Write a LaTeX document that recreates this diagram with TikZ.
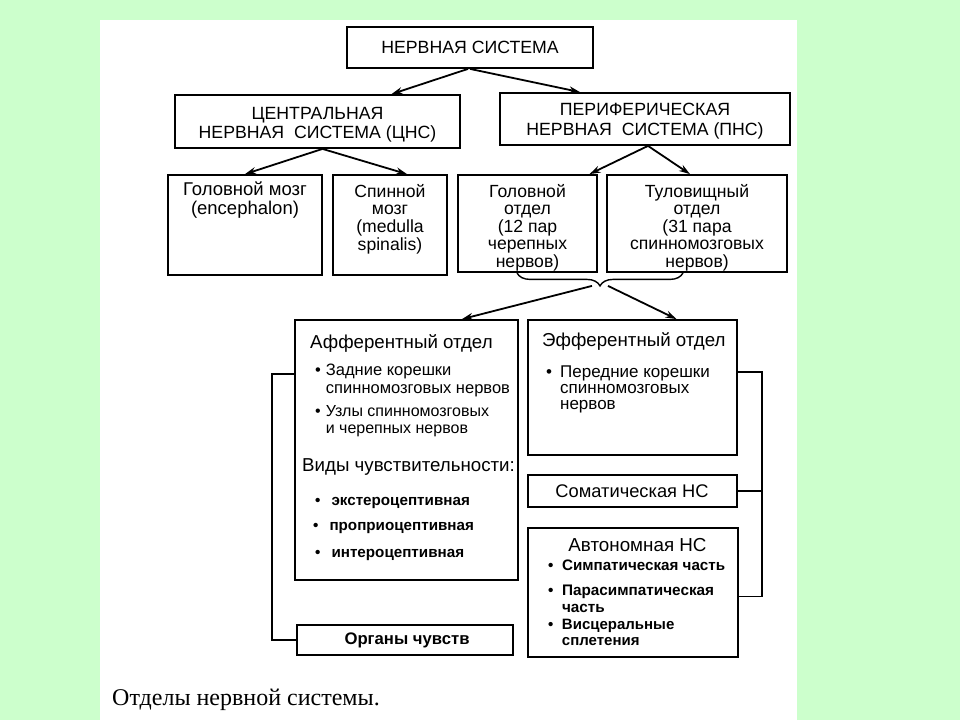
\documentclass[tikz,border=0pt]{standalone}
\usepackage{fontspec}
\setmainfont{Liberation Sans}
\newfontfamily\capfont{Liberation Serif}
\usetikzlibrary{arrows.meta,calc,decorations.pathreplacing}
\definecolor{bggreen}{RGB}{204,255,204}
\newcommand\cblock[1]{\begin{tabular}{@{}c@{}}#1\end{tabular}}
\newcommand\lblockx[2]{\begin{tabular}{@{}l@{\hspace{#1}}l@{}}#2\end{tabular}}
\begin{document}
\begin{tikzpicture}[x=1pt,y=-1pt,
  box/.style={draw=black,line width=1.8pt,inner sep=0pt,fill=white},
  arr/.style={line width=1.8pt,-{Stealth[length=11pt,width=7pt]}},
  conn/.style={line width=1.4pt},
  txt/.style={inner sep=0pt,font=\fontsize{17.7}{17.7}\selectfont},
  row/.style={inner sep=0pt,font=\fontsize{17.6}{17}\selectfont},
  head/.style={inner sep=0pt,font=\fontsize{18.7}{18.7}\selectfont},
  small/.style={inner sep=0pt,font=\fontsize{16.5}{17}\selectfont},
  tiny/.style={inner sep=0pt,font=\bfseries\fontsize{15.2}{15.5}\selectfont}]
% background
\fill[bggreen] (0,0) rectangle (960,720);
\fill[white] (100,20) rectangle (797,720);
% boxes
\node[box,minimum width=246pt,minimum height=41pt] (ns) at (470,47.5) {};
\node[box,minimum width=285pt,minimum height=53pt] (cns) at (317.5,121.5) {};
\node[box,minimum width=290pt,minimum height=52pt] (pns) at (645,119) {};
\node[box,minimum width=154pt,minimum height=100pt] (gm) at (245,225) {};
\node[box,minimum width=114pt,minimum height=100pt] (sm) at (390,225) {};
\node[box,minimum width=139pt,minimum height=97pt] (go) at (527.5,223.5) {};
\node[box,minimum width=180pt,minimum height=97pt] (to) at (697,223.5) {};
\node[box,minimum width=223pt,minimum height=260pt] (aff) at (406.5,450) {};
\node[box,minimum width=209pt,minimum height=135pt] (eff) at (632.5,387.5) {};
\node[box,minimum width=209pt,minimum height=32pt] (som) at (632.5,491) {};
\node[box,minimum width=210pt,minimum height=129pt] (avt) at (633,592.5) {};
\node[box,minimum width=216pt,minimum height=30pt] (org) at (405,640) {};
% texts
\node[txt] (tns) at (470,47) {НЕРВНАЯ СИСТЕМА};
\node[txt,anchor=north,font=\fontsize{17.7}{19}\selectfont] (tcns) at (317.5,106) {\cblock{ЦЕНТРАЛЬНАЯ\\НЕРВНАЯ\ \ СИСТЕМА (ЦНС)}};
\node[txt,anchor=north,font=\fontsize{17.7}{20}\selectfont] (tpns) at (645,101) {\cblock{ПЕРИФЕРИЧЕСКАЯ\\НЕРВНАЯ\ \ СИСТЕМА (ПНС)}};
\node[row,anchor=north,font=\fontsize{18.5}{18.5}\selectfont] (tgm) at (245,182) {\cblock{Головной мозг\\(encephalon)}};
\node[row,anchor=north] (tsm) at (390,184.1) {\cblock{Спинной\\мозг\\(medulla\\spinalis)}};
\node[row,anchor=north] (tgo) at (527.5,184.1) {\cblock{Головной\\отдел\\(12 пар\\черепных\\нервов)}};
\node[row,anchor=north] (tto) at (697,184.1) {\cblock{Туловищный\\отдел\\(31 пара\\спинномозговых\\нервов)}};
% afferent
\node[head,anchor=west] (taff) at (310,343) {Афферентный отдел};
\node[small,anchor=north west,font=\fontsize{16.5}{18}\selectfont] (ta1) at (315,362.4) {\lblockx{5pt}{•&Задние корешки\\&спинномозговых нервов}};
\node[small,anchor=north west,font=\fontsize{16}{16.5}\selectfont] (ta2) at (315,405.2) {\lblockx{5pt}{•&Узлы спинномозговых\\&и черепных нервов}};
\node[head,anchor=west] (tvid) at (302,467) {Виды чувствительности:};
\node[tiny,anchor=west] (tv1) at (315,503) {•\hspace{11pt}экстероцептивная};
\node[tiny,anchor=west] (tv2) at (313,528) {•\hspace{11pt}проприоцептивная};
\node[tiny,anchor=west] (tv3) at (315,555) {•\hspace{11pt}интероцептивная};
% efferent
\node[head,anchor=west] (teff) at (542,341) {Эфферентный отдел};
\node[small,anchor=north west,font=\fontsize{17}{16.2}\selectfont] (te1) at (546,365.5) {\lblockx{8pt}{•&Передние корешки\\&спинномозговых\\&нервов}};
\node[txt,font=\fontsize{18.3}{18.3}\selectfont] (tsom) at (632,491) {Соматическая НС};
\node[txt,font=\fontsize{18.8}{18.8}\selectfont] (tavt) at (637.5,545) {Автономная НС};
\node[tiny,anchor=west] (tav1) at (548,565) {•\hspace{8.5pt}Симпатическая часть};
\node[tiny,anchor=north west,font=\bfseries\fontsize{15.3}{17}\selectfont] (tav2) at (548,583) {\lblockx{8.5pt}{•&Парасимпатическая\\&часть}};
\node[tiny,anchor=north west,font=\bfseries\fontsize{15}{15.6}\selectfont] (tav3) at (548,618.6) {\lblockx{8.5pt}{•&Висцеральные\\&сплетения}};
\node[txt,font=\bfseries\fontsize{16.7}{16.7}\selectfont] (torg) at (407,640) {Органы чувств};
% caption
\node[anchor=west,inner sep=0pt,font=\capfont\fontsize{24}{24}\selectfont] (cap) at (112,700) {Отделы нервной системы.};
% arrows
\draw[arr] ([xshift=-2pt]ns.south) -- ([xshift=74pt]cns.north);
\draw[arr] (ns.south) -- ([xshift=-65pt]pns.north);
\draw[arr] ([xshift=5pt]cns.south) -- (gm.north);
\draw[arr] ([xshift=5pt]cns.south) -- ([xshift=17pt]sm.north);
\draw[arr] ([xshift=3pt]pns.south) -- ([xshift=62pt]go.north);
\draw[arr] ([xshift=3pt]pns.south) -- ([xshift=-7pt]to.north);
% brace
\coordinate (bl) at ([xshift=-10.5pt]go.south);
\coordinate (br) at ([xshift=-14pt]to.south);
\coordinate (tip) at ($(bl)!0.5!(br)+(0,13)$);
\draw[conn,decorate,decoration={brace,amplitude=13pt}] (br) -- (bl);
\draw[arr] ([xshift=-8pt]tip) -- ([xshift=55.5pt]aff.north);
\draw[arr] ([xshift=8pt]tip) -- ([xshift=44pt]eff.north);
% side connectors
\draw[conn] ([yshift=-55pt]aff.north west) -- ++(-22,0) |- (org.west);
\coordinate (rc) at ($(eff.north east)+(24,53)$);
\draw[conn] (eff.east |- rc) -- (rc) |- ([yshift=-4pt]avt.east);
\draw[conn] (som.east) -- (som.east -| rc);
\end{tikzpicture}
\end{document}
